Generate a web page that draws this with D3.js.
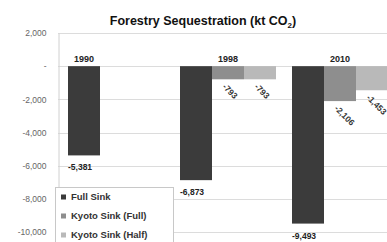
<!DOCTYPE html>
<html>
<head>
<meta charset="utf-8">
<script src="https://cdn.jsdelivr.net/npm/d3@7"></script>
<style>
  body { margin: 0; background: #fff; }
  text { font-family: "Liberation Sans", Arial, sans-serif; }
</style>
</head>
<body>
<div id="chart"></div>
<script>
// chart data
var years = ["1990", "1998", "2010"];
var seriesNames = ["Full Sink", "Kyoto Sink (Full)", "Kyoto Sink (Half)"];
var fullSink = [-5381, -6873, -9493];
var kyotoFull = [null, -793, -2106];
var kyotoHalf = [null, -793, -1453];
var yTicks = [2000, 0, -2000, -4000, -6000, -8000, -10000];

var colors = ["#3b3b3b", "#8e8e8e", "#b9b9b9"];

var svgWidth = 387;
var svgHeight = 242;

// plain hyphen for negatives, like the original
var fmt = d3.formatLocale({ decimal: ".", thousands: ",", grouping: [3], currency: ["", ""], minus: "-" }).format(",");

var svg = d3.select("#chart")
  .append("svg")
  .attr("width", svgWidth)
  .attr("height", svgHeight);

// build rows from the arrays
var seriesValues = [fullSink, kyotoFull, kyotoHalf];
var rows = years.map(function(y, i) {
  return {
    year: y,
    values: seriesNames.map(function(s, j) {
      return { series: s, idx: j, value: seriesValues[j][i] };
    })
  };
});

// scales
var x0 = d3.scaleBand()
  .domain(years)
  .range([60, 396])
  .paddingInner(1 / 7)
  .paddingOuter(1 / 14);

var x1 = d3.scaleBand()
  .domain(seriesNames)
  .range([0, x0.bandwidth()]);

var y = d3.scaleLinear()
  .domain([-10000, 2000])
  .range([232, 33]);

// gridlines
svg.append("g")
  .selectAll("line")
  .data(yTicks)
  .enter()
  .append("line")
  .attr("x1", 58)
  .attr("x2", svgWidth)
  .attr("y1", d => Math.round(y(d)) + 0.5)
  .attr("y2", d => Math.round(y(d)) + 0.5)
  .attr("stroke", "#dcdcdc")
  .attr("stroke-width", 1);

// left axis
var leftAxis = d3.axisLeft(y)
  .tickValues(yTicks)
  .tickSize(0)
  .tickPadding(12)
  .tickFormat(d => d === 0 ? "-    " : fmt(d));

var yAxis = svg.append("g")
  .attr("transform", "translate(58.5,0)")
  .call(leftAxis);

yAxis.select(".domain").attr("stroke", "#d0d0d0");
yAxis.selectAll("text")
  .attr("fill", "#666")
  .style("font-size", "8.5px");

// bars
var groups = svg.append("g")
  .selectAll("g")
  .data(rows)
  .enter()
  .append("g")
  .attr("transform", d => `translate(${x0(d.year)},0)`);

var present = d => d.values.filter(v => v.value !== null);

groups.selectAll("rect")
  .data(present)
  .enter()
  .append("rect")
  .attr("x", d => x1(d.series))
  .attr("width", x1.bandwidth())
  .attr("y", d => y(0))
  .attr("height", d => y(d.value) - y(0))
  .attr("fill", d => colors[d.idx]);

// year labels above the zero line
groups.append("text")
  .attr("x", function(d) {
    var p = present(d);
    var first = x1(p[0].series);
    var last = x1(p[p.length - 1].series) + x1.bandwidth();
    return (first + last) / 2;
  })
  .attr("y", y(0) - 4)
  .attr("text-anchor", "middle")
  .attr("fill", "#222")
  .style("font-size", "9px")
  .style("font-weight", "bold")
  .text(d => d.year);

// value labels for full sink: below the bar
groups.selectAll(".fullLabel")
  .data(d => present(d).filter(v => v.idx === 0))
  .enter()
  .append("text")
  .attr("class", "fullLabel")
  .attr("x", d => x1(d.series))
  .attr("y", d => y(d.value) + 15)
  .attr("fill", "#222")
  .style("font-size", "8.5px")
  .style("font-weight", "bold")
  .text(d => fmt(d.value));

// value labels for kyoto sinks: rotated
groups.selectAll(".kyotoLabel")
  .data(d => present(d).filter(v => v.idx > 0))
  .enter()
  .append("text")
  .attr("class", "kyotoLabel")
  .attr("transform", d => `translate(${x1(d.series) + x1.bandwidth() / 2 - 6},${y(d.value) + 8}) rotate(45)`)
  .attr("fill", "#333")
  .style("font-size", "8.5px")
  .style("font-weight", "bold")
  .text(d => fmt(d.value));

// title
var title = svg.append("text")
  .attr("x", 203)
  .attr("y", 25)
  .attr("text-anchor", "middle")
  .attr("fill", "#111")
  .style("font-size", "12.5px")
  .style("font-weight", "bold")
  .text("Forestry Sequestration (kt CO");
title.append("tspan")
  .attr("dy", 3)
  .style("font-size", "8px")
  .text("2");
title.append("tspan")
  .attr("dy", -3)
  .text(")");

// legend
var legend = svg.append("g");

legend.append("rect")
  .attr("x", 55.5)
  .attr("y", 187.5)
  .attr("width", 118)
  .attr("height", 70)
  .attr("fill", "#fff")
  .attr("stroke", "#c8c8c8");

var items = legend.selectAll(".item")
  .data(seriesNames)
  .enter()
  .append("g")
  .attr("class", "item")
  .attr("transform", (d, i) => `translate(61,${197 + i * 19})`);

items.append("rect")
  .attr("x", 0)
  .attr("y", -2.5)
  .attr("width", 5)
  .attr("height", 5)
  .attr("fill", (d, i) => colors[i]);

items.append("text")
  .attr("x", 10)
  .attr("y", 3.2)
  .attr("fill", "#333")
  .style("font-size", "9.5px")
  .style("font-weight", "bold")
  .text(d => d);
</script>
</body>
</html>
